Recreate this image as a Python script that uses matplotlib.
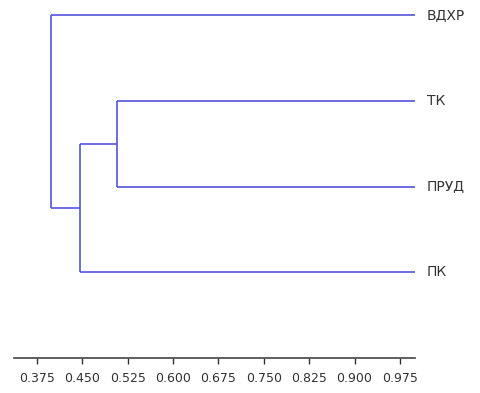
import matplotlib
matplotlib.use('Agg')

import matplotlib.pyplot as plt
import numpy as np

# leaves, top to bottom
labels = ["ВДХР", "ТК", "ПРУД", "ПК"]
# merges: (left, right, similarity level); ids >= 4 are earlier merges
merges = [(1, 2, 0.508), (4, 3, 0.446), (0, 5, 0.398)]
leaf_level = 1.0
ticks = [0.375, 0.450, 0.525, 0.600, 0.675, 0.750, 0.825, 0.900, 0.975]

color = '#5454e0'

fig = plt.figure(figsize=(4.81, 3.93), dpi=100)
ax = fig.add_axes([14 / 481, 35 / 393, 401 / 481, 358 / 393])

n = len(labels)
ypos = {i: float(n - 1 - i) for i in range(n)}
xpos = {i: leaf_level for i in range(n)}

for k, (a, b, h) in enumerate(merges):
    node = n + k
    for c in (a, b):
        ax.plot([xpos[c], h], [ypos[c], ypos[c]], color=color, lw=1.2, solid_capstyle='butt')
    ax.plot([h, h], [ypos[a], ypos[b]], color=color, lw=1.2, solid_capstyle='butt')
    xpos[node] = h
    ypos[node] = (ypos[a] + ypos[b]) / 2

for i, lab in enumerate(labels):
    ax.text(leaf_level + 0.02, ypos[i], lab, va='center', ha='left', fontsize=10, color='#333333')

ax.set_xlim(0.337, 1.0)
ax.set_ylim(-1.0, 3.175)
ax.set_xticks(ticks)
ax.set_xticklabels([f"{t:.3f}" for t in ticks])
ax.tick_params(axis='x', direction='out', length=4, width=1, colors='#333333', labelsize=9, pad=6)
ax.set_yticks([])
for s in ['top', 'right', 'left']:
    ax.spines[s].set_visible(False)
ax.spines['bottom'].set_color('#444444')
ax.spines['bottom'].set_linewidth(1.2)

fig.savefig('out.png', dpi=100)
